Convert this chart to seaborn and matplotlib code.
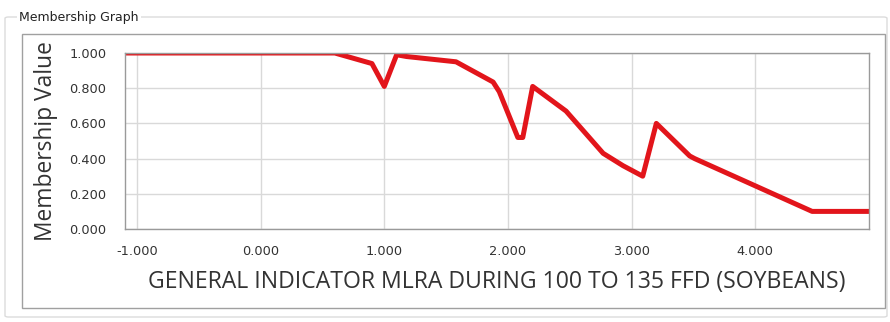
import numpy as np
import pandas as pd
import matplotlib
matplotlib.use("Agg")
import matplotlib.pyplot as plt
import seaborn as sns
from matplotlib.patches import Rectangle, FancyBboxPatch
from matplotlib.ticker import MultipleLocator, FormatStrFormatter

# membership curve
indicator = [-1.10, 0.60, 0.90, 1.00, 1.10, 1.18, 1.58, 1.88, 1.93, 2.08, 2.12,
             2.20, 2.47, 2.77, 2.93, 3.09, 3.20, 3.47, 3.51, 4.46, 4.92]
membership = [1.00, 1.00, 0.94, 0.81, 0.99, 0.98, 0.95, 0.835, 0.78, 0.52, 0.52,
              0.81, 0.67, 0.43, 0.36, 0.30, 0.60, 0.415, 0.40, 0.10, 0.10]

x_ticks = [-1.0, 0.0, 1.0, 2.0, 3.0, 4.0]
y_ticks = [0.0, 0.2, 0.4, 0.6, 0.8, 1.0]

df = pd.DataFrame({"x": indicator, "y": membership})

sns.set_style("white")
plt.rcParams['font.family'] = ['DejaVu Sans']

W, H = 890, 322
fig = plt.figure(figsize=(W / 100, H / 100), dpi=100)

# group box + inner panel
gb = FancyBboxPatch((5 / W, 1 - 317 / H), 882 / W, 300 / H,
                    boxstyle="round,pad=0,rounding_size=0.004",
                    transform=fig.transFigure, fill=False,
                    edgecolor="#dcdcdc", linewidth=1.0)
fig.add_artist(gb)
panel = Rectangle((22 / W, 1 - 308 / H), 863 / W, 274 / H,
                  transform=fig.transFigure, fill=False,
                  edgecolor="#a0a0a0", linewidth=1.0)
fig.add_artist(panel)
fig.text(19 / W, 1 - 17 / H, "Membership Graph", fontsize=9, color="#222222",
         va="center", ha="left",
         bbox=dict(facecolor="white", edgecolor="none", pad=1.5))

ax = fig.add_axes([125 / W, 1 - 229 / H, 744 / W, 176 / H])
sns.lineplot(data=df, x="x", y="y", ax=ax, color="#e2151b", linewidth=3.6,
             sort=False, estimator=None)

ax.set_xlim(-1.097, 4.92)
ax.set_ylim(0.0, 1.0)
ax.set_xticks(x_ticks)
ax.set_yticks(y_ticks)
ax.xaxis.set_major_formatter(FormatStrFormatter("%.3f"))
ax.yaxis.set_major_formatter(FormatStrFormatter("%.3f"))
ax.xaxis.set_minor_locator(MultipleLocator(0.2))
ax.yaxis.set_minor_locator(MultipleLocator(0.04))
ax.grid(True, which="major", color="#d9d9d9", linewidth=1.0)
ax.set_axisbelow(True)
for s in ax.spines.values():
    s.set_color("#9a9a9a")
    s.set_linewidth(1.0)
ax.tick_params(which="major", length=5.5, width=1, color="#9a9a9a",
               labelsize=9.3, labelcolor="#333333")
ax.tick_params(which="minor", length=2.5, width=1, color="#b0b0b0")
ax.tick_params(axis="y", which="major", pad=8)
ax.tick_params(axis="x", which="major", pad=6)

ax.set_xlabel("GENERAL INDICATOR MLRA DURING 100 TO 135 FFD (SOYBEANS)",
              fontsize=16.6, color="#333333", labelpad=9, family="Open Sans")
ax.set_ylabel("Membership Value", fontsize=16.4, color="#333333",
              labelpad=8, family="Open Sans")

fig.savefig("out.png", dpi=100, facecolor="white")
